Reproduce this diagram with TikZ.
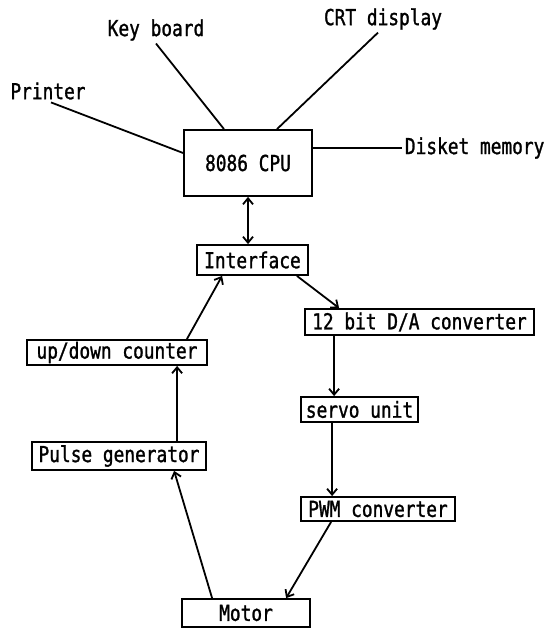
\documentclass[tikz,border=0pt]{standalone}
\usepackage{fontspec}
\newfontfamily\plotfont{DejaVu Sans Mono}[FakeStretch=0.81, FakeBold=1.2]
\usetikzlibrary{arrows.meta}

\begin{document}
\begin{tikzpicture}[x=1pt, y=-1pt, line width=1.8pt,
		>={Straight Barb[length=6pt,width=10pt]},
		block/.style={draw, inner sep=0pt, font=\plotfont\fontsize{22}{25}\selectfont},
		tag/.style={inner sep=2pt, font=\plotfont\fontsize{22}{25}\selectfont}]
		\useasboundingbox (0,0) rectangle (553,629);

		\node[block, minimum width=128pt, minimum height=66pt] (cpu) at (248,163) {8086 CPU};
		\node[block, minimum width=111pt, minimum height=30pt] (iface) at (252.5,260) {Interface};
		\node[block, minimum width=229pt, minimum height=26pt] (da) at (419.5,322) {12 bit D/A converter};
		\node[block, minimum width=180pt, minimum height=25pt] (ud) at (117,352.5) {up/down counter};
		\node[block, minimum width=117pt, minimum height=25pt] (servo) at (359.5,409.5) {servo unit};
		\node[block, minimum width=174pt, minimum height=28pt] (pulse) at (119,456) {Pulse generator};
		\node[block, minimum width=154pt, minimum height=24pt] (pwm) at (378,509) {PWM converter};
		\node[block, minimum width=128pt, minimum height=28pt] (motor) at (246,613) {Motor};

		\node[tag] (kb) at (156,30) {Key board};
		\node[tag] (crt) at (383,19) {CRT display};
		\node[tag] (prn) at (48,91) {Printer};
		\node[tag, anchor=west] (dsk) at (402,148) {Disket memory};

		\path
		(kb.south) edge ([xshift=-24pt]cpu.north)
		([xshift=-5pt]crt.south) edge ([xshift=29pt]cpu.north)
		([xshift=3pt]prn.south) edge ([yshift=10pt]cpu.west)
		([yshift=15pt]cpu.east) edge (dsk.west)
		(cpu.south) [<->] edge (cpu.south |- iface.north)
		([xshift=-12pt]iface.south east) [->] edge ([xshift=35pt]da.north west)
		([xshift=-21pt]ud.north east) [->] edge ([xshift=26pt]iface.south west)
		([xshift=30pt]da.south west) [->] edge ([xshift=34pt]servo.north west)
		([xshift=32pt]servo.south west) [->] edge ([xshift=32pt]pwm.north west)
		([xshift=146pt]pulse.north west) [->] edge ([xshift=151pt]ud.south west)
		([xshift=31pt]pwm.south west) [->] edge ([xshift=105pt]motor.north west)
		([xshift=31pt]motor.north west) [->] edge ([xshift=143pt]pulse.south west);
\end{tikzpicture}
\end{document}
